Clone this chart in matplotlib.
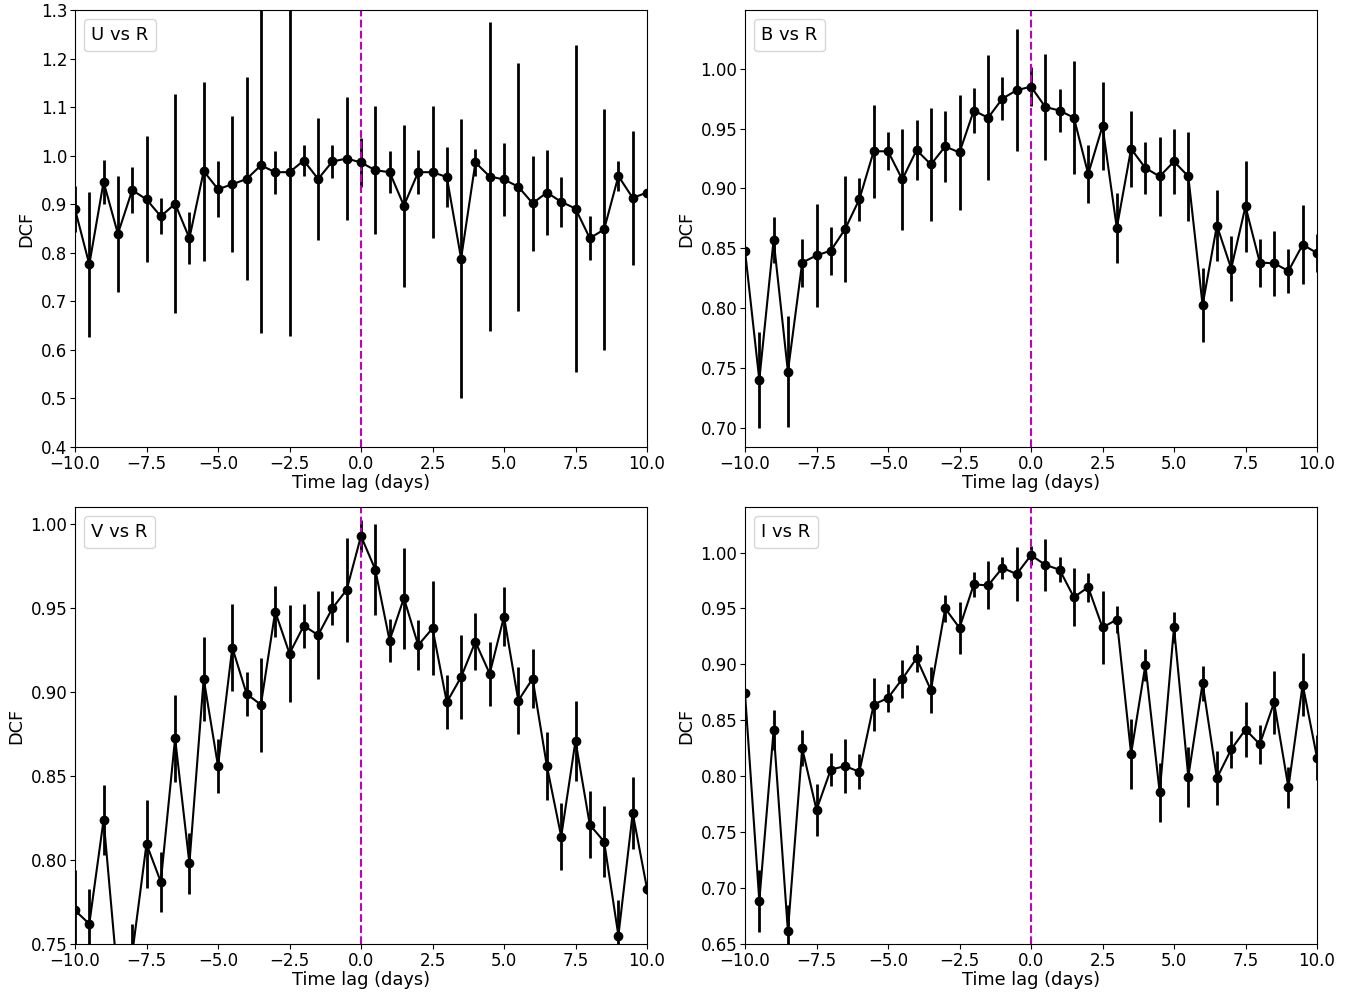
import numpy as np
import matplotlib
matplotlib.use("Agg")
import matplotlib.pyplot as plt
from matplotlib.lines import Line2D

lags = [-10.0, -9.5, -9.0, -8.5, -8.0, -7.5, -7.0, -6.5, -6.0, -5.5, -5.0,
        -4.5, -4.0, -3.5, -3.0, -2.5, -2.0, -1.5, -1.0, -0.5, 0.0,
        0.5, 1.0, 1.5, 2.0, 2.5, 3.0, 3.5, 4.0, 4.5, 5.0,
        5.5, 6.0, 6.5, 7.0, 7.5, 8.0, 8.5, 9.0, 9.5, 10.0]

u_dcf = [0.890, 0.776, 0.946, 0.839, 0.929, 0.910, 0.875, 0.901, 0.830, 0.968, 0.931,
         0.941, 0.952, 0.980, 0.966, 0.966, 0.990, 0.952, 0.988, 0.994, 0.986,
         0.970, 0.966, 0.897, 0.966, 0.966, 0.956, 0.788, 0.986, 0.957, 0.951,
         0.936, 0.902, 0.924, 0.905, 0.891, 0.830, 0.848, 0.958, 0.913, 0.924]
u_err = [0.047, 0.150, 0.045, 0.120, 0.047, 0.130, 0.037, 0.226, 0.053, 0.184, 0.058,
         0.140, 0.209, 0.346, 0.044, 0.338, 0.032, 0.125, 0.033, 0.127, 0.051,
         0.132, 0.043, 0.167, 0.045, 0.136, 0.062, 0.287, 0.027, 0.318, 0.076,
         0.255, 0.098, 0.087, 0.052, 0.337, 0.045, 0.248, 0.030, 0.138, 0.005]

b_dcf = [0.848, 0.740, 0.857, 0.747, 0.838, 0.844, 0.848, 0.866, 0.891, 0.931, 0.931,
         0.9075, 0.932, 0.920, 0.935, 0.930, 0.965, 0.959, 0.975, 0.982, 0.985,
         0.968, 0.965, 0.959, 0.912, 0.952, 0.867, 0.933, 0.917, 0.910, 0.9225,
         0.910, 0.8025, 0.869, 0.833, 0.885, 0.838, 0.8375, 0.831, 0.853, 0.846]
b_err = [0.003, 0.040, 0.019, 0.046, 0.020, 0.043, 0.020, 0.044, 0.018, 0.039, 0.016,
         0.042, 0.025, 0.047, 0.030, 0.048, 0.019, 0.052, 0.018, 0.051, 0.016,
         0.044, 0.018, 0.047, 0.024, 0.037, 0.029, 0.032, 0.022, 0.033, 0.027,
         0.037, 0.031, 0.030, 0.027, 0.038, 0.020, 0.027, 0.018, 0.033, 0.016]

v_dcf = [0.770, 0.762, 0.824, 0.728, 0.744, 0.8096, 0.787, 0.8725, 0.798, 0.908, 0.856,
         0.9266, 0.899, 0.8925, 0.948, 0.923, 0.9396, 0.934, 0.950, 0.961, 0.993,
         0.973, 0.9307, 0.956, 0.928, 0.938, 0.894, 0.909, 0.930, 0.911, 0.945,
         0.895, 0.908, 0.856, 0.814, 0.871, 0.821, 0.811, 0.755, 0.828, 0.783]
v_err = [0.024, 0.021, 0.021, 0.015, 0.018, 0.026, 0.018, 0.026, 0.018, 0.025, 0.016,
         0.026, 0.013, 0.028, 0.015, 0.029, 0.013, 0.026, 0.010, 0.031, 0.0095,
         0.027, 0.013, 0.030, 0.015, 0.028, 0.016, 0.025, 0.017, 0.019, 0.0175,
         0.020, 0.0175, 0.0205, 0.020, 0.024, 0.020, 0.021, 0.021, 0.0215, 0.003]

i_dcf = [0.874, 0.6886, 0.841, 0.6616, 0.825, 0.770, 0.806, 0.809, 0.804, 0.864, 0.870,
         0.887, 0.9055, 0.877, 0.950, 0.9326, 0.9715, 0.9706, 0.9863, 0.9807, 0.9976,
         0.989, 0.9846, 0.960, 0.969, 0.933, 0.940, 0.820, 0.8996, 0.7855, 0.9332,
         0.7995, 0.8832, 0.7983, 0.824, 0.8417, 0.8286, 0.866, 0.790, 0.882, 0.8167]
i_err = [0.003, 0.028, 0.018, 0.023, 0.016, 0.023, 0.0145, 0.024, 0.0155, 0.024, 0.0127,
         0.017, 0.0122, 0.0207, 0.012, 0.0235, 0.0113, 0.0215, 0.010, 0.024, 0.0085,
         0.023, 0.011, 0.026, 0.013, 0.0325, 0.012, 0.031, 0.0145, 0.026, 0.0137,
         0.0266, 0.0156, 0.024, 0.0166, 0.0244, 0.0175, 0.028, 0.018, 0.0285, 0.020]

titles = ["U vs R", "B vs R", "V vs R", "I vs R"]
ylims = [(0.4, 1.3), (0.684, 1.049), (0.75, 1.0103), (0.65, 1.0407)]
yticks = [np.arange(0.4, 1.301, 0.1), np.arange(0.70, 1.001, 0.05),
          np.arange(0.75, 1.001, 0.05), np.arange(0.65, 1.001, 0.05)]
yfmt = ["{:.1f}", "{:.2f}", "{:.2f}", "{:.2f}"]
series = [(u_dcf, u_err), (b_dcf, b_err), (v_dcf, v_err), (i_dcf, i_err)]

fig = plt.figure(figsize=(13.61, 9.96), dpi=100)
W = 572 / 1361
H = 437 / 996
positions = [(75 / 1361, 1 - 447 / 996), (745 / 1361, 1 - 447 / 996),
             (75 / 1361, 1 - 944 / 996), (745 / 1361, 1 - 944 / 996)]

for k in range(4):
    ax = fig.add_axes([positions[k][0], positions[k][1], W, H])
    d, e = series[k]
    ax.errorbar(lags, d, yerr=e, fmt='o-', color='black', ms=6, lw=1.5,
                elinewidth=2, capsize=0)
    ax.axvline(0, color='m', linestyle='--', lw=1.5)
    ax.set_xlim(-10, 10)
    ax.set_ylim(*ylims[k])
    ax.set_xticks([-10, -7.5, -5, -2.5, 0, 2.5, 5, 7.5, 10])
    ax.set_xticklabels(["\u221210.0", "\u22127.5", "\u22125.0", "\u22122.5",
                        "0.0", "2.5", "5.0", "7.5", "10.0"])
    ax.set_yticks(yticks[k])
    ax.set_yticklabels([yfmt[k].format(t) for t in yticks[k]])
    ax.tick_params(labelsize=12, pad=2)
    ax.set_xlabel("Time lag (days)", fontsize=12.8, labelpad=1)
    ax.set_ylabel("DCF", fontsize=12.8, labelpad=4)
    h = Line2D([], [], linestyle='none', marker='')
    ax.legend([h], [titles[k]], loc='upper left', handlelength=0,
              handletextpad=0, fontsize=13)

fig.savefig("out.png", dpi=100)
